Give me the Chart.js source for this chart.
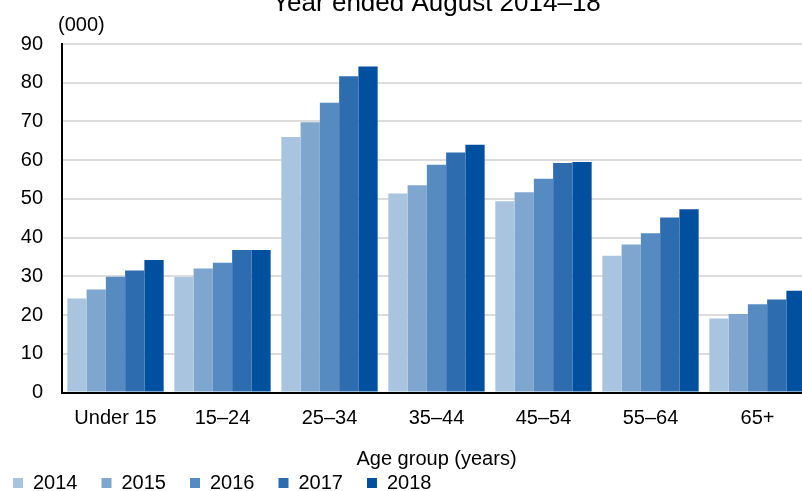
<!DOCTYPE html>
<html>
<head>
<meta charset="utf-8">
<script src="https://cdn.jsdelivr.net/npm/chart.js@4.4.1/dist/chart.umd.min.js"></script>
<style>
  body { margin: 0; width: 802px; height: 491px; overflow: hidden; position: relative; background: #fff; }
  #chart { position: absolute; left: -11px; top: -12px; }
</style>
</head>
<body>
<canvas id="chart" width="822" height="515"></canvas>
<script>
// age groups on the x axis
const categories = ['Under 15', '15–24', '25–34', '35–44', '45–54', '55–64', '65+'];
const years = ['2014', '2015', '2016', '2017', '2018'];

// values in thousands
const v2014 = [24.3, 29.8, 66.0, 51.4, 49.4, 35.3, 19.1];
const v2015 = [26.6, 32.0, 69.8, 53.5, 51.7, 38.2, 20.3];
const v2016 = [29.9, 33.5, 74.8, 58.8, 55.2, 41.1, 22.8];
const v2017 = [31.5, 36.8, 81.7, 62.0, 59.3, 45.2, 24.0];
const v2018 = [34.2, 36.8, 84.2, 64.0, 59.5, 47.3, 26.3];

const yMin = 0;
const yMax = 90;
const yStep = 10;

const colors = ['#a9c4df', '#7fa6cf', '#568bc1', '#2e6cb0', '#0050a0'];
const FONT = "'Liberation Sans', Arial, sans-serif";

// "(000)" unit label above the y axis
const unitLabel = {
  id: 'unitLabel',
  afterDraw(chart) {
    const { ctx, chartArea } = chart;
    ctx.save();
    ctx.font = '20px ' + FONT;
    ctx.fillStyle = '#000';
    ctx.textAlign = 'left';
    ctx.textBaseline = 'middle';
    ctx.fillText('(000)', chartArea.left - 4, chartArea.top - 19);
    ctx.restore();
  }
};

const series = [v2014, v2015, v2016, v2017, v2018];

new Chart(document.getElementById('chart'), {
  type: 'bar',
  data: {
    labels: categories,
    datasets: series.map((d, i) => ({
      label: years[i],
      data: d,
      backgroundColor: colors[i],
      borderWidth: 0,
      categoryPercentage: 0.9,
      barPercentage: 1.0
    }))
  },
  options: {
    responsive: false,
    animation: false,
    layout: { padding: 0 },
    plugins: {
      title: {
        display: true,
        text: 'Year ended August 2014–18',
        color: '#000',
        fullSize: false,
        font: { family: FONT, size: 26, weight: 'normal' },
        padding: { top: 0, bottom: 24.8 }
      },
      legend: {
        position: 'bottom',
        align: 'start',
        labels: {
          boxWidth: 10,
          boxHeight: 10,
          padding: 24,
          color: '#000',
          font: { family: FONT, size: 20 }
        }
      },
      tooltip: { enabled: false }
    },
    scales: {
      x: {
        z: 1,
        grid: { display: false, drawTicks: false },
        border: { display: true, color: '#000', width: 2 },
        ticks: { color: '#000', padding: 13.5, font: { family: FONT, size: 20 } },
        title: {
          display: true,
          text: 'Age group (years)',
          color: '#000',
          font: { family: FONT, size: 20 },
          padding: { top: 3.5, bottom: -22 }
        }
      },
      y: {
        min: yMin,
        max: yMax,
        afterFit(scale) { scale.width = 73; },
        grid: {
          drawTicks: false,
          lineWidth: 2,
          color: ctx => ctx.tick && ctx.tick.value === 0 ? 'rgba(0,0,0,0)' : '#dcdcdc'
        },
        border: { display: true, color: '#000', width: 2 },
        ticks: {
          stepSize: yStep,
          color: '#000',
          padding: 19,
          font: { family: FONT, size: 20 }
        }
      }
    }
  },
  plugins: [unitLabel]
});
</script>
</body>
</html>
